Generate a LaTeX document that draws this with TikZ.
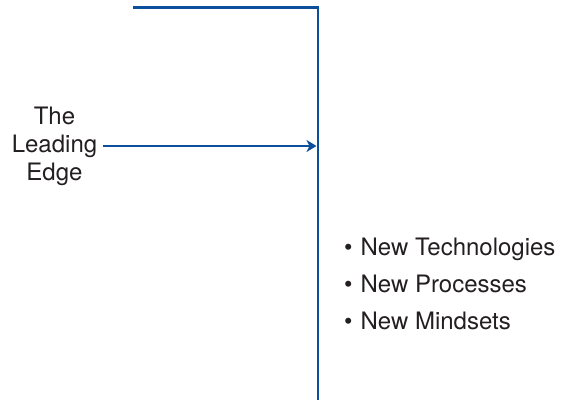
\documentclass[tikz,border=0pt]{standalone}
\usepackage{fontspec}
\setmainfont{TeX Gyre Heros}
\usetikzlibrary{arrows.meta}
\definecolor{edgeblue}{HTML}{0B4F9C}
\definecolor{inkgray}{HTML}{231F20}
\begin{document}
\begin{tikzpicture}[x=1pt,y=-1pt,
  label text/.style={font=\fontsize{24}{28}\selectfont, text=inkgray, inner sep=0pt},
  bullet text/.style={font=\fontsize{24}{28}\selectfont, text=inkgray, inner sep=0pt, anchor=base west},
  frame line/.style={draw=edgeblue, line width=2.8pt},
  lead arrow/.style={draw=edgeblue, line width=2pt, -{Stealth[length=10pt,width=12pt,inset=3pt]}}]
  \useasboundingbox (0,0) rectangle (568,400);
  % the bracket: top edge and the tall vertical edge
  \coordinate (topleft) at (133,7.5);
  \coordinate (corner) at (318,7.5);
  \coordinate (bottom) at (318,400);
  \draw[frame line] (topleft) -- (corner) -- (bottom);
  % label with the arrow pointing at the vertical edge
  \node[label text, align=center] (lead) at (54.5,146) {The\\Leading\\Edge};
  \coordinate (start) at (103,146);
  \coordinate (hit) at (316.5,146);
  \draw[lead arrow] (start) -- (hit);
  % bullet list
  \node[bullet text] (b1) at (344,255) {\textbullet\hspace{8pt}New Technologies};
  \node[bullet text] (b2) at (344,292) {\textbullet\hspace{8pt}New Processes};
  \node[bullet text] (b3) at (344,329) {\textbullet\hspace{8pt}New Mindsets};
\end{tikzpicture}
\end{document}
